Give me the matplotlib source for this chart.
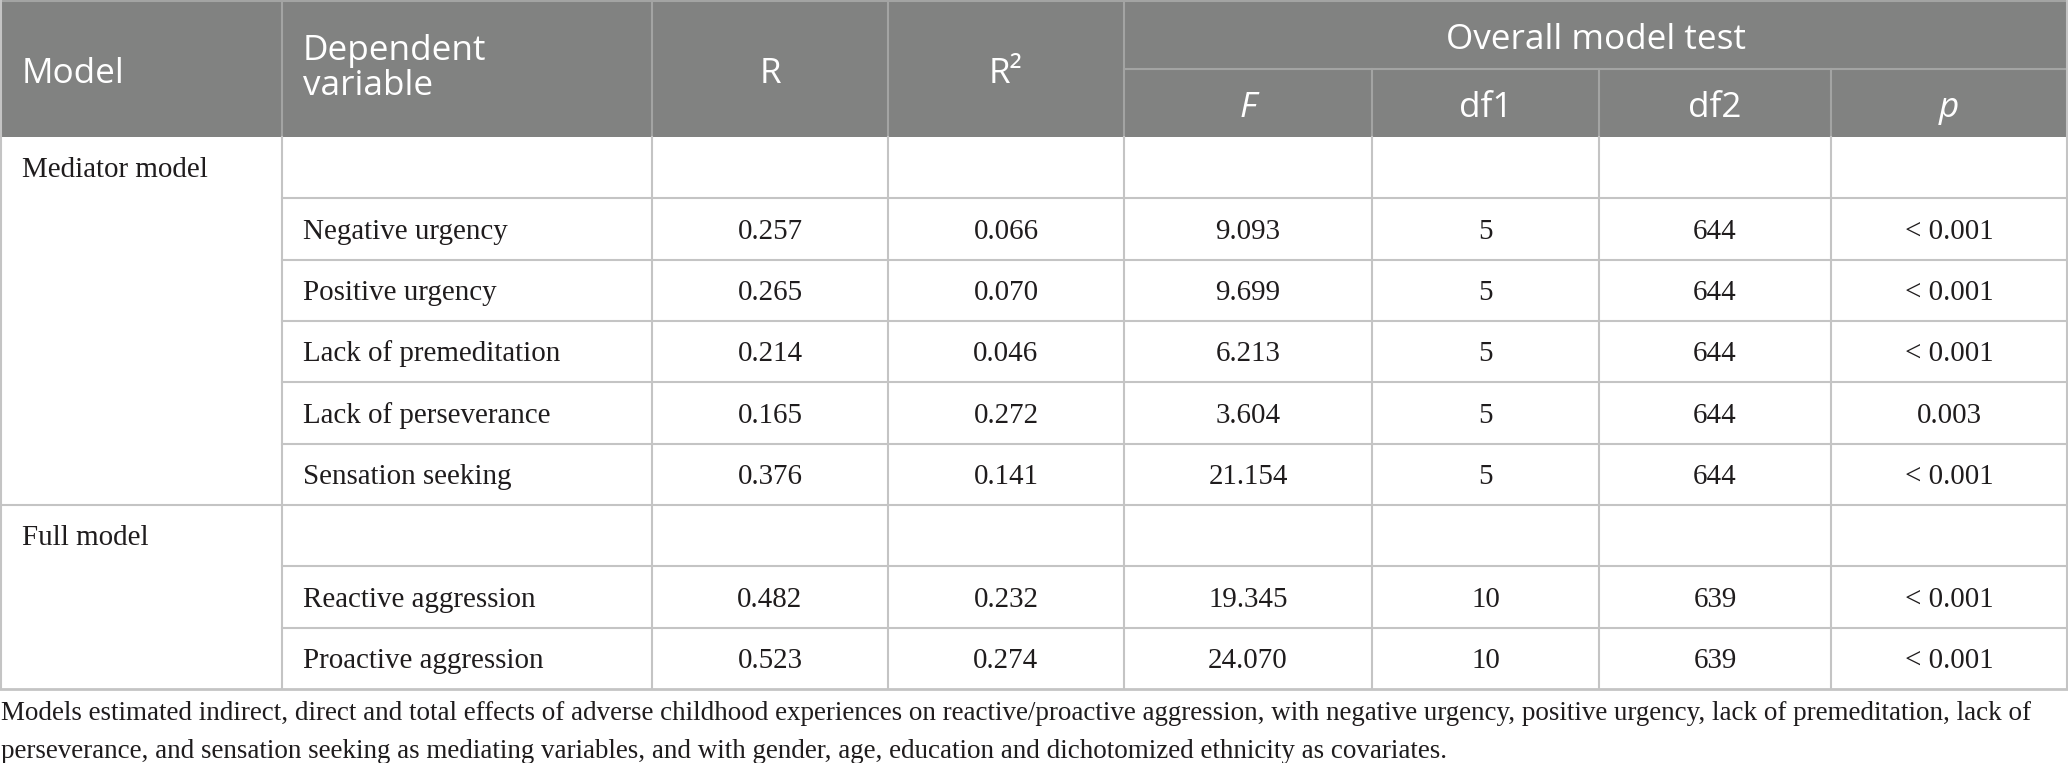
import matplotlib
matplotlib.use("Agg")
import matplotlib.pyplot as plt
from matplotlib.patches import Rectangle

# table content
groups = ["Mediator model", "Full model"]
group_sizes = [6, 3]  # rows spanned by each group (incl. blank first row)

dep_vars = ["", "Negative urgency", "Positive urgency", "Lack of premeditation",
            "Lack of perseverance", "Sensation seeking",
            "", "Reactive aggression", "Proactive aggression"]
r_vals = ["", "0.257", "0.265", "0.214", "0.165", "0.376", "", "0.482", "0.523"]
r2_vals = ["", "0.066", "0.070", "0.046", "0.272", "0.141", "", "0.232", "0.274"]
f_vals = ["", "9.093", "9.699", "6.213", "3.604", "21.154", "", "19.345", "24.070"]
df1_vals = ["", "5", "5", "5", "5", "5", "", "10", "10"]
df2_vals = ["", "644", "644", "644", "644", "644", "", "639", "639"]
p_vals = ["", "< 0.001", "< 0.001", "< 0.001", "0.003", "< 0.001", "", "< 0.001", "< 0.001"]

header_top = ["Model", ["Dependent", "variable"], "R", "R\u00b2"]
span_label = "Overall model test"
header_sub = ["F", "df1", "df2", "p"]

footnote = [
    "Models estimated indirect, direct and total effects of adverse childhood experiences on "
    "reactive/proactive aggression, with negative urgency, positive urgency, lack of premeditation, lack of",
    "perseverance, and sensation seeking as mediating variables, and with gender, age, education and "
    "dichotomized ethnicity as covariates.",
]

# layout (pixels)
W, H = 2068, 763
col_x = [0, 282, 652, 888, 1124, 1372, 1599, 1831, 2067]
head_mid, head_bot = 69, 137
row_h = (689 - head_bot) / 9
HEAD_BG = "#818281"
HEAD_LINE = "#a3a4a3"
GRID = "#c4c4c4"
TXT = "#1f1c1d"
HEAD_FONT = "Open Sans"
BODY_FONT = "Liberation Serif"
hs, bs, fs = 25.3, 20.9, 19.45

fig = plt.figure(figsize=(W / 100, H / 100), dpi=100)
ax = fig.add_axes([0, 0, 1, 1])
ax.set_xlim(0, W)
ax.set_ylim(H, 0)
ax.axis("off")

# header block
ax.add_patch(Rectangle((0, 0), W, head_bot, color=HEAD_BG, lw=0))
for i, x in enumerate(col_x[1:-1], start=1):
    y0 = head_mid if i >= 5 else 0
    ax.plot([x, x], [y0, head_bot], color=HEAD_LINE, lw=1.5)
ax.plot([col_x[4], W], [head_mid, head_mid], color=HEAD_LINE, lw=1.5)
ax.plot([0, W], [1, 1], color=HEAD_LINE, lw=1.5)


def htext(x, base, s, ha="center", style="normal"):
    ax.text(x, base, s, ha=ha, va="baseline", color="white", fontsize=hs,
            family=HEAD_FONT, fontstyle=style)


htext(22, 83, header_top[0], ha="left")
htext(303, 60, header_top[1][0], ha="left")
htext(303, 95, header_top[1][1], ha="left")
htext((col_x[2] + col_x[3]) / 2, 83, header_top[2])
htext((col_x[3] + col_x[4]) / 2, 83, header_top[3])
htext((col_x[4] + W) / 2, 49, span_label)
for j, lab in enumerate(header_sub):
    cx = (col_x[4 + j] + col_x[5 + j]) / 2
    htext(cx, 117, lab, style="italic" if lab in ("F", "p") else "normal")

# body grid
body_bot = head_bot + 9 * row_h
for x in col_x[1:-1]:
    ax.plot([x, x], [head_bot, body_bot], color=GRID, lw=1.5)
ax.plot([1, 1], [0, body_bot], color=GRID, lw=1.5)
ax.plot([W - 1, W - 1], [0, body_bot], color=GRID, lw=1.5)
for k in range(1, 9):
    y = head_bot + k * row_h
    x0 = 0 if k == group_sizes[0] else col_x[1]
    ax.plot([x0, W], [y, y], color=GRID, lw=1.5)
ax.plot([0, W], [body_bot, body_bot], color=GRID, lw=2)

cap = 0.662 * bs * 100 / 72 / 2


def btext(x, y, s, ha="center"):
    ax.text(x, y + cap, s, ha=ha, va="baseline", color=TXT,
            fontsize=bs, family=BODY_FONT)


start = 0
for g, n in zip(groups, group_sizes):
    btext(22, head_bot + (start + 0.5) * row_h, g, ha="left")
    start += n

cols = [r_vals, r2_vals, f_vals, df1_vals, df2_vals, p_vals]
for i in range(9):
    yc = head_bot + (i + 0.5) * row_h
    if dep_vars[i]:
        btext(303, yc, dep_vars[i], ha="left")
    for j, vals in enumerate(cols):
        if vals[i]:
            btext((col_x[2 + j] + col_x[3 + j]) / 2, yc, vals[i])

# footnote
for k, line in enumerate(footnote):
    ax.text(1, 720 + k * 38, line, ha="left", va="baseline", color=TXT,
            fontsize=fs, family=BODY_FONT)

fig.savefig("out.png", dpi=100, facecolor="white")
